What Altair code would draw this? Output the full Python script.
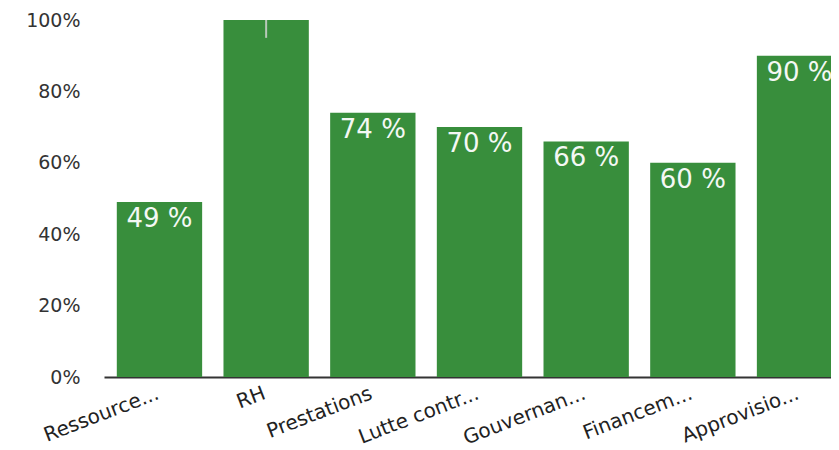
import altair as alt
import pandas as pd

categories = ["Ressource...", "RH", "Prestations", "Lutte contr...", "Gouvernan...", "Financem...", "Approvisio..."]
values = [49, 100, 74, 70, 66, 60, 90]
labels = ["49 %", "", "74 %", "70 %", "66 %", "60 %", "90 %"]

marker_cat = ["RH"]
marker_lo = [95]
marker_hi = [100]

y_ticks = [0, 20, 40, 60, 80, 100]

df = pd.DataFrame({"cat": categories, "val": values, "label": labels})
df_marker = pd.DataFrame({"cat": marker_cat, "lo": marker_lo, "hi": marker_hi})

GREEN = "#388E3C"
FONT = "DejaVu Sans"

x_scale = alt.Scale(range=[0, 751], paddingInner=0.2, paddingOuter=0.12)
y_scale = alt.Scale(domain=[0, 100], nice=False)

x_enc = alt.X(
    "cat:N",
    sort=categories,
    scale=x_scale,
    axis=alt.Axis(
        title=None,
        labelAngle=-21,
        labelAlign="right",
        labelBaseline="top",
        labelPadding=6,
        labelOffset=-5,
        ticks=False,
        tickSize=0,
        grid=False,
        domain=True,
        domainColor="#333333",
        domainWidth=2,
        labelFont=FONT,
        labelFontSize=20,
        labelColor="#222222",
        labelOverlap=False,
        labelLimit=300,
    ),
)

bars = alt.Chart(df).mark_bar(color=GREEN).encode(
    x=x_enc,
    y=alt.Y(
        "val:Q",
        scale=y_scale,
        axis=alt.Axis(
            title=None,
            values=y_ticks,
            labelExpr="datum.value + '%'",
            grid=False,
            ticks=False,
            domain=False,
            labelPadding=24,
            labelFont=FONT,
            labelFontSize=19,
            labelColor="#333333",
        ),
    ),
)

text = alt.Chart(df).mark_text(
    align="center",
    baseline="top",
    dy=4,
    font=FONT,
    fontSize=26,
    color="#f4f8f4",
).encode(
    x=alt.X("cat:N", sort=categories),
    y=alt.Y("val:Q", scale=y_scale),
    text="label:N",
)

marker = alt.Chart(df_marker).mark_rule(color="#b9c9b9", strokeWidth=2).encode(
    x=alt.X("cat:N", sort=categories),
    y=alt.Y("lo:Q", scale=y_scale),
    y2="hi:Q",
)

chart = (
    alt.layer(bars, text, marker)
    .properties(
        width=727,
        height=357,
        background="white",
        autosize=alt.AutoSizeParams(type="none"),
        padding={"left": 96, "top": 12, "right": 0, "bottom": 70},
    )
    .configure_view(strokeWidth=0)
    .configure_axis(grid=False)
)

chart.save("out.html", embed_options={"renderer": "svg", "actions": False})
